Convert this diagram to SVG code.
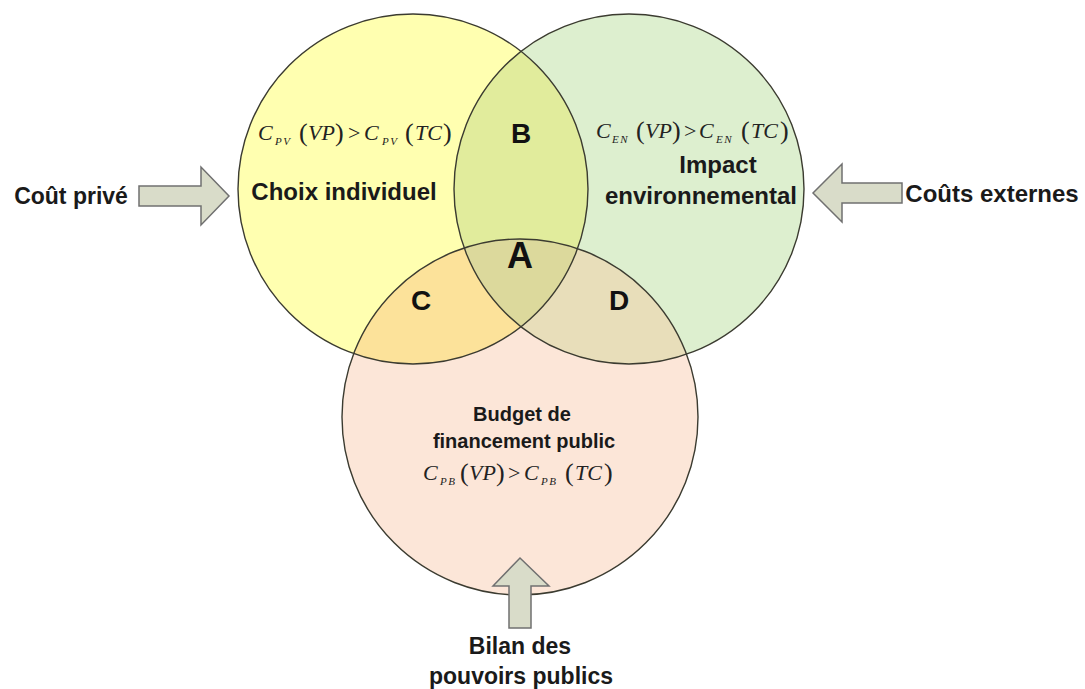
<svg xmlns="http://www.w3.org/2000/svg" width="1085" height="689" viewBox="0 0 1085 689">
<style>
.lbl{font-family:"Liberation Sans",Arial,sans-serif;font-weight:bold;fill:#1a1a1a;text-anchor:middle}
.big{font-family:"Liberation Sans",Arial,sans-serif;font-weight:bold;fill:#111;text-anchor:middle}
.f{font-family:"Liberation Serif","Times New Roman",serif;font-style:italic;font-size:22px;fill:#222}
.s{font-size:11px;letter-spacing:1.5px}
.p{font-size:26px;font-style:normal}
.ring{fill:none;stroke:#3b3b30;stroke-width:1.4}
.arrow{fill:#D9DCC9;stroke:#707070;stroke-width:1.5;stroke-linejoin:miter}
</style>
<defs>
<clipPath id="cpL"><circle cx="413" cy="189" r="175"/></clipPath>
<clipPath id="cpR"><circle cx="629" cy="189" r="175"/></clipPath>
</defs>
<g id="circle-choix">
<circle cx="413" cy="189" r="175" fill="#FFFFB0"/>
</g>
<g id="circle-impact">
<circle cx="629" cy="189" r="175" fill="#DDEFCF"/>
</g>
<g id="circle-budget">
<circle cx="520" cy="417" r="178" fill="#FCE6D8"/>
</g>
<g id="overlaps">
<circle cx="629" cy="189" r="175" fill="#E1EC9C" clip-path="url(#cpL)"/>
<circle cx="520" cy="417" r="178" fill="#FCE29A" clip-path="url(#cpL)"/>
<circle cx="520" cy="417" r="178" fill="#E8DEBA" clip-path="url(#cpR)"/>
<g clip-path="url(#cpL)"><circle cx="520" cy="417" r="178" fill="#DCD99C" clip-path="url(#cpR)"/></g>
</g>
<g id="outlines">
<circle class="ring" cx="413" cy="189" r="175"/>
<circle class="ring" cx="629" cy="189" r="175"/>
<circle class="ring" cx="520" cy="417" r="178"/>
</g>
<g id="region-labels">
<text class="big" x="521" y="143" font-size="28">B</text>
<text class="big" x="520" y="268" font-size="36">A</text>
<text class="big" x="421" y="310" font-size="28">C</text>
<text class="big" x="619" y="310" font-size="28">D</text>
</g>
<g id="node-choix">
<text class="lbl" x="344" y="200" font-size="24">Choix individuel</text>
<text class="f" y="140"><tspan x="258">C</tspan><tspan class="s" x="275" y="145">PV</tspan><tspan class="p" x="299" y="141">(</tspan><tspan x="308" y="140">VP</tspan><tspan class="p" x="335" y="141">)</tspan><tspan x="348" y="140" font-style="normal">&gt;</tspan><tspan x="364">C</tspan><tspan class="s" x="382" y="145">PV</tspan><tspan class="p" x="405" y="141">(</tspan><tspan x="415" y="140">TC</tspan><tspan class="p" x="443" y="141">)</tspan></text>
</g>
<g id="node-impact">
<text class="lbl" x="718" y="173" font-size="24">Impact</text>
<text class="lbl" x="701" y="204" font-size="24">environnemental</text>
<text class="f" y="138"><tspan x="596">C</tspan><tspan class="s" x="612" y="143">EN</tspan><tspan class="p" x="636" y="139">(</tspan><tspan x="645" y="138">VP</tspan><tspan class="p" x="672" y="139">)</tspan><tspan x="684" y="138" font-style="normal">&gt;</tspan><tspan x="699">C</tspan><tspan class="s" x="716" y="143">EN</tspan><tspan class="p" x="741" y="139">(</tspan><tspan x="751" y="138">TC</tspan><tspan class="p" x="780" y="139">)</tspan></text>
</g>
<g id="node-budget">
<text class="lbl" x="522" y="421" font-size="20">Budget de</text>
<text class="lbl" x="524" y="448" font-size="20">financement public</text>
<text class="f" y="480"><tspan x="423">C</tspan><tspan class="s" x="440" y="485">PB</tspan><tspan class="p" x="460" y="481">(</tspan><tspan x="469" y="480">VP</tspan><tspan class="p" x="496" y="481">)</tspan><tspan x="508" y="480" font-style="normal">&gt;</tspan><tspan x="524">C</tspan><tspan class="s" x="541" y="485">PB</tspan><tspan class="p" x="565" y="481">(</tspan><tspan x="575" y="480">TC</tspan><tspan class="p" x="604" y="481">)</tspan></text>
</g>
<g id="connectors">
<polygon class="arrow" points="139,186 201,186 201,167 229,196 201,225 201,206 139,206"/>
<polygon class="arrow" points="902,183 842,183 842,164 813,193 842,222 842,203 902,203"/>
<polygon class="arrow" points="509,628 509,586 493,586 520,558 549,586 531,586 531,628"/>
</g>
<g id="source-labels">
<text class="lbl" x="71" y="204" font-size="23">Coût privé</text>
<text class="lbl" x="992" y="202" font-size="24">Coûts externes</text>
<text class="lbl" x="520" y="654" font-size="23">Bilan des</text>
<text class="lbl" x="521" y="684" font-size="23">pouvoirs publics</text>
</g>
</svg>
